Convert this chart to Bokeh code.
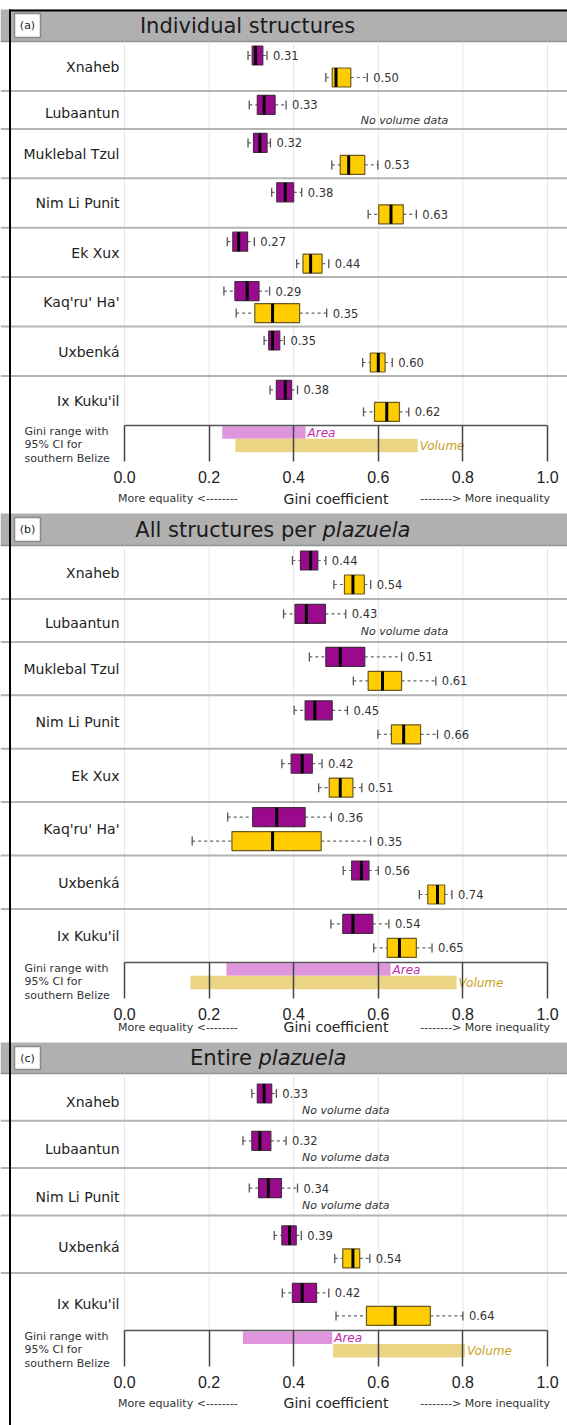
from bokeh.plotting import figure
from bokeh.models import Range1d, LinearAxis, FixedTicker, PrintfTickFormatter
from bokeh.core.properties import value
from bokeh.embed import file_html
from bokeh.resources import INLINE

# ---------------- data ----------------
ticks = [0.0, 0.2, 0.4, 0.6, 0.8, 1.0]

panel_tags = ["(a)", "(b)", "(c)"]
title_plain = ["Individual structures", "All structures per ", "Entire "]
title_italic = ["", "plazuela", "plazuela"]

sites_a = ["Xnaheb", "Lubaantun", "Muklebal Tzul", "Nim Li Punit", "Ek Xux",
           "Kaq'ru' Ha'", "Uxbenká", "Ix Kuku'il"]
sites_b = ["Xnaheb", "Lubaantun", "Muklebal Tzul", "Nim Li Punit", "Ek Xux",
           "Kaq'ru' Ha'", "Uxbenká", "Ix Kuku'il"]
sites_c = ["Xnaheb", "Lubaantun", "Nim Li Punit", "Uxbenká", "Ix Kuku'il"]

# (whisker low, Q1, median, Q3, whisker high); None = no volume data
area_a = [(0.292, 0.302, 0.31, 0.327, 0.337), (0.295, 0.314, 0.33, 0.356, 0.382),
          (0.292, 0.305, 0.32, 0.337, 0.345), (0.348, 0.360, 0.38, 0.400, 0.419),
          (0.243, 0.256, 0.27, 0.291, 0.307), (0.235, 0.261, 0.29, 0.318, 0.343),
          (0.330, 0.341, 0.35, 0.367, 0.378), (0.344, 0.359, 0.38, 0.395, 0.409)]
volume_a = [(0.476, 0.491, 0.50, 0.535, 0.574), None,
            (0.490, 0.510, 0.53, 0.568, 0.599), (0.576, 0.601, 0.63, 0.659, 0.690),
            (0.407, 0.422, 0.44, 0.467, 0.483), (0.264, 0.308, 0.35, 0.414, 0.478),
            (0.563, 0.581, 0.60, 0.616, 0.633), (0.565, 0.591, 0.62, 0.650, 0.672)]
area_b = [(0.397, 0.416, 0.44, 0.457, 0.476), (0.376, 0.403, 0.43, 0.475, 0.523),
          (0.437, 0.476, 0.51, 0.568, 0.655), (0.401, 0.427, 0.45, 0.491, 0.527),
          (0.372, 0.394, 0.42, 0.444, 0.467), (0.244, 0.303, 0.36, 0.427, 0.489),
          (0.517, 0.537, 0.56, 0.578, 0.600), (0.488, 0.516, 0.54, 0.587, 0.625)]
volume_b = [(0.495, 0.520, 0.54, 0.567, 0.582), None,
            (0.541, 0.576, 0.61, 0.655, 0.736), (0.599, 0.631, 0.66, 0.700, 0.740),
            (0.459, 0.484, 0.51, 0.540, 0.561), (0.160, 0.254, 0.35, 0.465, 0.582),
            (0.697, 0.717, 0.74, 0.757, 0.774), (0.589, 0.621, 0.65, 0.690, 0.727)]
area_c = [(0.301, 0.314, 0.33, 0.348, 0.359), (0.280, 0.301, 0.32, 0.346, 0.382),
          (0.295, 0.317, 0.34, 0.371, 0.409), (0.354, 0.372, 0.39, 0.406, 0.418),
          (0.373, 0.397, 0.42, 0.454, 0.483)]
volume_c = [None, None, None,
            (0.497, 0.516, 0.54, 0.556, 0.580), (0.500, 0.572, 0.64, 0.723, 0.800)]

# Gini range with 95% CI for southern Belize (low, high)
ci_area = [(0.231, 0.428), (0.241, 0.629), (0.280, 0.491)]
ci_volume = [(0.262, 0.693), (0.156, 0.785), (0.493, 0.805)]

# ---------------- layout / style ----------------
W, H = 567, 1425
PX0, PXS = 124.0, 423.0          # page x of Gini 0 and pixels per Gini unit


def gx(px):
    return (px - PX0) / PXS


def dg(px):
    return px / PXS


XL, XR = gx(0), gx(W)

geo = [
    dict(top=9, hh=32, hv=49.4, hn=38, ao=14, vo=36, to=30, std=4, dy=73, tcx=247, nvd=0.662),
    dict(top=513, hh=32, hv=53.4, hn=43, ao=15, vo=39, to=33, std=-5, dy=65, tcx=322, nvd=0.662),
    dict(top=1042, hh=31, hv=57.5, hn=47.3, ao=20, vo=43, to=37, std=3, dy=73, tcx=258, nvd=0.523),
]
BH = 19       # box height (px)
CAP = 9       # whisker cap height (px)
PURPLE = "#9b0a8d"
GOLD = "#ffcc00"
FONT = value("DejaVu Sans")
TFS = value("21px")

p = figure(width=W, height=H, x_range=Range1d(XL, XR), y_range=Range1d(H, 0),
           output_backend="svg", toolbar_location=None, min_border=0,
           x_axis_location=None, y_axis_location=None)
p.grid.visible = False
p.outline_line_color = None
p.background_fill_color = "white"
p.border_fill_color = "white"


def draw_boxes(stats, ys, fill, edge):
    rows = [(y, s) for y, s in zip(ys, stats) if s is not None]
    y = [r[0] for r in rows]
    lo = [r[1][0] for r in rows]
    q1 = [r[1][1] for r in rows]
    med = [r[1][2] for r in rows]
    q3 = [r[1][3] for r in rows]
    hi = [r[1][4] for r in rows]
    p.segment(x0=lo, x1=q1, y0=y, y1=y, line_color="#666666", line_width=1.2, line_dash="3 3")
    p.segment(x0=q3, x1=hi, y0=y, y1=y, line_color="#666666", line_width=1.2, line_dash="3 3")
    ytop = [v - CAP / 2 for v in y]
    ybot = [v + CAP / 2 for v in y]
    p.segment(x0=lo, x1=lo, y0=ytop, y1=ybot, line_color="#555555", line_width=1.3)
    p.segment(x0=hi, x1=hi, y0=ytop, y1=ybot, line_color="#555555", line_width=1.3)
    p.hbar(y=y, left=q1, right=q3, height=BH, fill_color=fill, line_color=edge, line_width=1.2)
    p.segment(x0=med, x1=med, y0=[v - BH / 2 for v in y], y1=[v + BH / 2 for v in y],
              line_color="black", line_width=3)
    p.text(x=[h + dg(6) for h in hi], y=y, text=[f"{m:.2f}" for m in med],
           text_font=FONT, text_font_size=value("11.5px"), text_color="#333333",
           text_align="left", text_baseline="middle")


panels = [(sites_a, area_a, volume_a), (sites_b, area_b, volume_b), (sites_c, area_c, volume_c)]

for k, (sites, area, vol) in enumerate(panels):
    g = geo[k]
    top = g["top"]
    hb = top + g["hh"]
    ym = (top + hb) / 2
    # header band
    p.quad(left=XL, right=XR, top=top, bottom=hb, fill_color="#b0b0b0", line_color=None)
    p.segment(x0=XL, x1=XR, y0=hb, y1=hb, line_color="#8f8f8f", line_width=1.5)
    p.quad(left=gx(14), right=gx(40), top=top + 4, bottom=hb - 4,
           fill_color="white", line_color="#8a8a8a", line_width=1.5)
    p.text(x=gx(27), y=ym, text=[panel_tags[k]], text_font=FONT,
           text_font_size=value("11px"), text_color="#222222",
           text_align="center", text_baseline="middle")
    # title
    if title_italic[k]:
        p.text(x=gx(g["tcx"]), y=ym, text=[title_plain[k]], text_font=FONT,
               text_font_size=TFS, text_color="#1a1a1a",
               text_align="right", text_baseline="middle")
        p.text(x=gx(g["tcx"]), y=ym, text=[title_italic[k]], text_font=FONT,
               text_font_size=TFS, text_font_style=value("italic"),
               text_color="#1a1a1a", text_align="left", text_baseline="middle")
    else:
        p.text(x=gx(g["tcx"]), y=ym, text=[title_plain[k]], text_font=FONT,
               text_font_size=TFS, text_color="#1a1a1a",
               text_align="center", text_baseline="middle")

    # rows
    row_tops = []
    y = hb
    for s in vol:
        row_tops.append(y)
        y += g["hv"] if s is not None else g["hn"]
    L = y

    p.segment(x0=ticks, x1=ticks, y0=hb, y1=L, line_color="#e6e6e6", line_width=1)
    seps = row_tops[1:]
    p.segment(x0=[XL] * len(seps), x1=[XR] * len(seps), y0=seps, y1=seps,
              line_color="#b3b3b3", line_width=2)

    ya = [t + g["ao"] for t in row_tops]
    yv = [t + g["vo"] for t in row_tops]
    ylab = [t + (g["ao"] + g["vo"]) / 2 if s is not None else t + (g["ao"] + g["to"]) / 2
            for t, s in zip(row_tops, vol)]
    p.text(x=gx(119), y=ylab, text=sites, text_font=FONT, text_font_size=value("14px"),
           text_color="#222222", text_align="right", text_baseline="middle")
    ynv = [t + g["to"] for t, s in zip(row_tops, vol) if s is None]
    p.text(x=[g["nvd"]] * len(ynv), y=ynv, text=["No volume data"] * len(ynv),
           text_font=FONT, text_font_size=value("11px"), text_font_style=value("italic"),
           text_color="#333333", text_align="center", text_baseline="middle")

    draw_boxes(area, ya, PURPLE, "#4a2a45")
    draw_boxes(vol, yv, GOLD, "#6b5a20")

    # Gini range with 95% CI
    p.quad(left=ci_area[k][0], right=ci_area[k][1], top=L + 1, bottom=L + 13.5,
           fill_color="#dc8fd9", fill_alpha=0.95, line_color=None)
    p.quad(left=ci_volume[k][0], right=ci_volume[k][1], top=L + 13.5, bottom=L + 27,
           fill_color="#ebd27e", fill_alpha=0.95, line_color=None)
    p.text(x=[ci_area[k][1] + dg(2)], y=[L + 7.5], text=["Area"], text_font=FONT,
           text_font_size=value("12px"), text_font_style=value("italic"),
           text_color="#c22aac", text_align="left", text_baseline="middle")
    p.text(x=[ci_volume[k][1] + dg(2)], y=[L + 20.5], text=["Volume"], text_font=FONT,
           text_font_size=value("12px"), text_font_style=value("italic"),
           text_color="#c9a126", text_align="left", text_baseline="middle")
    p.text(x=[gx(24)] * 3, y=[L + 6, L + 19.5, L + 33],
           text=["Gini range with", "95% CI for", "southern Belize"],
           text_font=FONT, text_font_size=value("11px"), text_color="#333333",
           text_align="left", text_baseline="middle")

    ax = LinearAxis(fixed_location=L, bounds=(0, 1),
                    ticker=FixedTicker(ticks=ticks),
                    formatter=PrintfTickFormatter(format="%.1f"))
    ax.axis_line_color = "#555555"
    ax.axis_line_width = 1.5
    ax.major_tick_line_color = "#444444"
    ax.major_tick_line_width = 1.5
    ax.major_tick_in = 0
    ax.major_tick_out = 36
    ax.minor_tick_line_color = None
    ax.major_label_standoff = 10
    ax.major_label_text_font = "Liberation Sans"
    ax.major_label_text_font_size = "16px"
    ax.major_label_text_color = "#222222"
    ax.axis_label = "Gini coefficient"
    ax.axis_label_text_font = "DejaVu Sans"
    ax.axis_label_text_font_size = "14px"
    ax.axis_label_text_font_style = "normal"
    ax.axis_label_text_color = "#222222"
    ax.axis_label_standoff = g["std"]
    p.add_layout(ax, "below")

    yd = L + g["dy"]
    p.text(x=[gx(117.5)], y=[yd], text=["More equality <--------"], text_font=FONT,
           text_font_size=value("11px"), text_color="#333333",
           text_align="left", text_baseline="middle")
    p.text(x=[gx(549.5)], y=[yd], text=["--------> More inequality"], text_font=FONT,
           text_font_size=value("11px"), text_color="#333333",
           text_align="right", text_baseline="middle")

# outer frame (left and top edges)
p.segment(x0=[gx(9.5)], x1=[gx(9.5)], y0=[9], y1=[H], line_color="black", line_width=2)
p.segment(x0=[gx(9)], x1=[XR], y0=[10], y1=[10], line_color="black", line_width=2)

open("out.html", "w").write(file_html(p, INLINE, title="Gini coefficients"))
